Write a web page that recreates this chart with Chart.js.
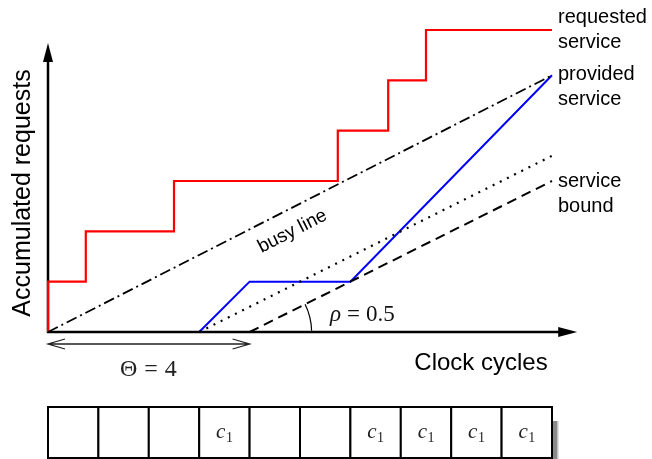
<!DOCTYPE html>
<html>
<head>
<meta charset="utf-8">
<script src="https://cdn.jsdelivr.net/npm/chart.js@4/dist/chart.umd.min.js"></script>
<style>
  html, body { margin: 0; padding: 0; background: #fff; }
  #wrap { width: 652px; height: 459px; }
</style>
</head>
<body>
<div id="wrap"><canvas id="chart" width="652" height="459"></canvas></div>
<script>
// ---------- data (clock cycles / requests) ----------
const reqStepX = [0, 0.75, 2.5, 5.75, 6.75, 7.5];   // moments a request arrives
const reqLevel = [1, 2, 3, 4, 5, 6];                // accumulated requests after each
const reqEndX = 10;

const provX = [3, 4, 6, 10];
const provY = [0, 1, 1, 5.1];

const busyX = [0, 10];
const busyY = [0, 5.1];

const dotX = [3, 10];
const dotY = [0, 3.5];

const boundX = [4, 10];
const boundY = [0, 3];

const cellLabels = ['', '', '', 'c', '', '', 'c', 'c', 'c', 'c'];
const theta = 4;
const rho = 0.5;

const SANS = '"Liberation Sans", Arial, sans-serif';
const SERIF = '"Liberation Serif", "DejaVu Serif", serif';

// ---------- helpers ----------
function pts(xs, ys) {
    return xs.map((x, i) => ({ x: x, y: ys[i] }));
}

function stepPoints() {
    const out = [{ x: 0, y: 0 }];
    let prev = 0;
    reqStepX.forEach((x, i) => {
        out.push({ x: x, y: prev });
        out.push({ x: x, y: reqLevel[i] });
        prev = reqLevel[i];
    });
    out.push({ x: reqEndX, y: prev });
    return out;
}

function lineDs(data, color, width, dash) {
    return {
        data: data,
        showLine: true,
        borderColor: color,
        borderWidth: width,
        borderDash: dash || [],
        pointRadius: 0,
        fill: false,
        tension: 0,
        clip: false
    };
}

// draws math-like pieces left to right with a gap between them
function mathRow(ctx, parts, x, y, gap) {
    let cx = x;
    parts.forEach(p => {
        ctx.font = p.font;
        ctx.fillText(p.t, cx, y);
        cx += ctx.measureText(p.t).width + gap;
    });
}

// ---------- plugin: axes, arrows, text, cells ----------
const decor = {
    id: 'decor',
    beforeDatasetsDraw(chart) {
        const ctx = chart.ctx;
        const xs = chart.scales.x, ys = chart.scales.y;
        const x0 = xs.getPixelForValue(0), y0 = ys.getPixelForValue(0);
        ctx.save();
        ctx.strokeStyle = '#000';
        ctx.fillStyle = '#000';
        ctx.lineWidth = 2.5;
        // y axis
        const yTip = ys.getPixelForValue(5.74);
        ctx.beginPath();
        ctx.moveTo(x0, y0 + 1);
        ctx.lineTo(x0, yTip + 15);
        ctx.stroke();
        ctx.beginPath();
        ctx.moveTo(x0, yTip);
        ctx.lineTo(x0 - 5, yTip + 19);
        ctx.lineTo(x0 + 5, yTip + 19);
        ctx.closePath();
        ctx.fill();
        // x axis
        const xTip = xs.getPixelForValue(10.5);
        ctx.beginPath();
        ctx.moveTo(x0 - 1, y0);
        ctx.lineTo(xTip - 15, y0);
        ctx.stroke();
        ctx.beginPath();
        ctx.moveTo(xTip, y0);
        ctx.lineTo(xTip - 19, y0 - 5);
        ctx.lineTo(xTip - 19, y0 + 5);
        ctx.closePath();
        ctx.fill();
        ctx.restore();
    },
    afterDraw(chart) {
        const ctx = chart.ctx;
        const xs = chart.scales.x, ys = chart.scales.y;
        const x0 = xs.getPixelForValue(0), y0 = ys.getPixelForValue(0);
        ctx.save();

        // axis titles
        ctx.fillStyle = '#000';
        ctx.font = '24px ' + SANS;
        ctx.textAlign = 'center';
        ctx.textBaseline = 'alphabetic';
        ctx.fillText('Clock cycles', 481, 370);
        ctx.save();
        ctx.translate(30, 193);
        ctx.rotate(-Math.PI / 2);
        ctx.font = '25px ' + SANS;
        ctx.fillText('Accumulated requests', 0, 0);
        ctx.restore();

        // right side labels
        ctx.font = '20px ' + SANS;
        ctx.textAlign = 'left';
        const lx = xs.getPixelForValue(10) + 6;
        ctx.fillText('requested', lx, 23);
        ctx.fillText('service', lx, 48);
        ctx.fillText('provided', lx, 80);
        ctx.fillText('service', lx, 105);
        ctx.fillText('service', lx, 187);
        ctx.fillText('bound', lx, 212);

        // busy line label, rotated along the line
        const bx1 = xs.getPixelForValue(busyX[0]), by1 = ys.getPixelForValue(busyY[0]);
        const bx2 = xs.getPixelForValue(busyX[1]), by2 = ys.getPixelForValue(busyY[1]);
        const ang = Math.atan2(by2 - by1, bx2 - bx1);
        ctx.save();
        ctx.translate(xs.getPixelForValue(4.85), ys.getPixelForValue(2.0));
        ctx.rotate(ang);
        ctx.font = '19px ' + SANS;
        ctx.textAlign = 'center';
        ctx.textBaseline = 'middle';
        ctx.fillText('busy line', 0, 0);
        ctx.restore();

        // rho angle arc
        const ax = xs.getPixelForValue(boundX[0]);
        const sAng = Math.atan2(ys.getPixelForValue(boundY[1]) - y0, xs.getPixelForValue(boundX[1]) - ax);
        ctx.strokeStyle = '#000';
        ctx.lineWidth = 1.2;
        ctx.beginPath();
        ctx.arc(ax, y0, 62, sAng, -0.02);
        ctx.stroke();
        ctx.textBaseline = 'alphabetic';
        ctx.textAlign = 'left';
        ctx.fillStyle = '#111';
        mathRow(ctx, [
            { t: '\u03C1', font: 'italic 23px ' + SERIF },
            { t: '=', font: '23px ' + SERIF },
            { t: rho.toFixed(1), font: '23px ' + SERIF }
        ], 330, 321, 6);

        // theta double arrow
        const tx = xs.getPixelForValue(theta);
        const ay = 344;
        ctx.strokeStyle = '#222';
        ctx.lineWidth = 1.3;
        ctx.beginPath();
        ctx.moveTo(x0, ay);
        ctx.lineTo(tx, ay);
        ctx.moveTo(x0 + 17, ay - 5);
        ctx.lineTo(x0, ay);
        ctx.lineTo(x0 + 17, ay + 5);
        ctx.moveTo(tx - 17, ay - 5);
        ctx.lineTo(tx, ay);
        ctx.lineTo(tx - 17, ay + 5);
        ctx.stroke();
        ctx.fillStyle = '#222';
        mathRow(ctx, [
            { t: '\u0398', font: '24px ' + SERIF },
            { t: '=', font: '24px ' + SERIF },
            { t: String(theta), font: '24px ' + SERIF }
        ], 120, 376, 7);

        // schedule cells
        const cTop = 407, cBot = 458;
        const last = xs.getPixelForValue(cellLabels.length);
        ctx.fillStyle = '#8a8a8a';
        ctx.fillRect(last + 1, 421, 5, 38);
        ctx.fillStyle = '#c4c4c4';
        ctx.fillRect(last + 5, 421, 1.5, 38);
        ctx.strokeStyle = '#000';
        ctx.lineWidth = 2;
        ctx.fillStyle = '#fff';
        cellLabels.forEach((lab, i) => {
            const a = xs.getPixelForValue(i), b = xs.getPixelForValue(i + 1);
            ctx.fillRect(a, cTop, b - a, cBot - cTop);
            ctx.strokeRect(a, cTop, b - a, cBot - cTop);
        });
        ctx.fillStyle = '#222';
        cellLabels.forEach((lab, i) => {
            if (!lab) return;
            const m = (xs.getPixelForValue(i) + xs.getPixelForValue(i + 1)) / 2;
            ctx.textAlign = 'right';
            ctx.font = 'italic 21px ' + SERIF;
            ctx.fillText(lab, m + 1, 438);
            ctx.textAlign = 'left';
            ctx.font = '14px ' + SERIF;
            ctx.fillText('1', m + 1.5, 442);
        });

        ctx.restore();
    }
};

// ---------- chart ----------
new Chart(document.getElementById('chart').getContext('2d'), {
    type: 'scatter',
    data: {
        datasets: [
            lineDs(pts(busyX, busyY), '#000', 1.8, [11, 4, 2, 4]),
            lineDs(pts(dotX, dotY), '#000', 2.2, [2, 6]),
            lineDs(pts(boundX, boundY), '#000', 2, [10, 6]),
            lineDs(pts(provX, provY), '#0000ff', 2),
            lineDs(stepPoints(), '#ff0000', 2.2)
        ]
    },
    options: {
        responsive: false,
        animation: false,
        devicePixelRatio: 1,
        layout: { padding: { left: 48, right: 100, top: 30, bottom: 127 } },
        plugins: {
            legend: { display: false },
            tooltip: { enabled: false }
        },
        scales: {
            x: { type: 'linear', min: 0, max: 10, display: false },
            y: { type: 'linear', min: 0, max: 6, display: false }
        }
    },
    plugins: [decor]
});
</script>
</body>
</html>
